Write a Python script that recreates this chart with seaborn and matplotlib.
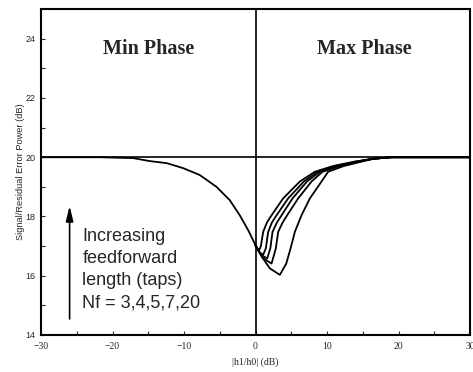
import numpy as np
import pandas as pd
import seaborn as sns
import matplotlib.pyplot as plt

# min phase branch (x < 0)
min_x = [-30, -25, -21.8, -17.1, -14.8, -12.4, -10.1, -7.8, -5.45, -3.6, -2.2, -1.03, 0]
min_y = [20.0, 20.0, 20.0, 19.97, 19.87, 19.8, 19.63, 19.4, 19.0, 18.55, 18.04, 17.54, 17.03]

# max phase branch, one curve per feedforward length (Nf = 20, 7, 5, 4, 3)
nf_labels = ['20', '7', '5', '4', '3']
max_x = [
    [0, 0.25, 0.5, 0.75, 1.07, 1.6, 2.24, 3.86, 6.2, 8.3, 10.8, 13.8, 16.5, 19, 30],
    [0, 0.5, 1.07, 1.44, 1.77, 2.3, 2.94, 4.56, 6.76, 8.67, 11.1, 14.0, 16.5, 19, 30],
    [0, 0.7, 1.63, 2.07, 2.38, 3.0, 3.64, 5.17, 7.2, 9.0, 11.4, 14.2, 16.5, 19, 30],
    [0, 1.0, 2.24, 2.84, 3.17, 3.8, 4.42, 5.96, 7.83, 9.37, 11.7, 14.4, 16.5, 19, 30],
    [0, 1.0, 2.0, 3.4, 4.3, 4.9, 5.5, 6.43, 7.6, 9.23, 10.15, 12.3, 14.8, 16.5, 19, 30],
]
max_y = [
    [17.03, 16.9, 16.86, 17.0, 17.48, 17.8, 18.04, 18.61, 19.18, 19.51, 19.7, 19.85, 19.95, 20, 20],
    [17.03, 16.8, 16.71, 16.92, 17.48, 17.8, 18.04, 18.61, 19.18, 19.51, 19.7, 19.85, 19.95, 20, 20],
    [17.03, 16.72, 16.58, 16.92, 17.48, 17.8, 18.04, 18.61, 19.18, 19.51, 19.7, 19.85, 19.95, 20, 20],
    [17.03, 16.6, 16.41, 16.92, 17.48, 17.8, 18.04, 18.61, 19.18, 19.51, 19.7, 19.85, 19.95, 20, 20],
    [17.03, 16.6, 16.25, 16.03, 16.41, 16.92, 17.48, 18.04, 18.61, 19.18, 19.51, 19.7, 19.85, 19.95, 20, 20],
]

sns.set_style("ticks")

fig = plt.figure(figsize=(4.73, 3.72), dpi=100)
ax = fig.add_axes([0.0867, 0.0995, 0.907, 0.876])

sns.lineplot(x=min_x, y=min_y, ax=ax, color='k', linewidth=1.3,
             estimator=None, sort=False)
for xs, ys in zip(max_x, max_y):
    line = sns.lineplot(x=xs, y=ys, ax=ax, color='k', linewidth=1.3,
                        estimator=None, sort=False)
for l in ax.lines:
    l.set_solid_joinstyle('round')

ax.axhline(20, color='k', linewidth=1.2)
ax.axvline(0, color='k', linewidth=1.2)

ax.set_xlim(-30, 30)
ax.set_ylim(14, 25)
ax.set_xticks([-30, -20, -10, 0, 10, 20, 30])
ax.set_xticks(np.arange(-25, 30, 10), minor=True)
ax.set_yticks([14, 16, 18, 20, 22, 24])
ax.set_yticks([15, 17, 19, 21, 23], minor=True)
ax.tick_params(which='both', direction='in', length=3, width=0.8)
ax.tick_params(axis='y', labelsize=6.5, pad=4)
ax.tick_params(axis='x', labelsize=7, pad=5)
for lab in ax.get_xticklabels():
    lab.set_family('Liberation Serif')
for lab in ax.get_yticklabels():
    lab.set_family('Liberation Sans')
for s in ax.spines.values():
    s.set_linewidth(1.5)
    s.set_color('k')

ax.set_xlabel('|h1/h0| (dB)', fontsize=7, family='Liberation Serif', labelpad=5)
ax.set_ylabel('Signal/Residual Error Power (dB)', fontsize=6.7,
              family='Liberation Sans', labelpad=0)

ax.text(-15.0, 23.66, 'Min Phase', fontsize=14.5, fontweight='bold',
        family='Liberation Serif', ha='center', va='center')
ax.text(15.15, 23.66, 'Max Phase', fontsize=14.5, fontweight='bold',
        family='Liberation Serif', ha='center', va='center')

ax.annotate('', xy=(-26, 18.45), xytext=(-26, 14.45),
            arrowprops=dict(arrowstyle='-|>,head_length=0.9,head_width=0.22',
                            color='k', lw=1.2, mutation_scale=10))
ax.text(-24.2, 16.2, 'Increasing\nfeedforward\nlength (taps)\nNf = 3,4,5,7,20',
        fontsize=13, family='Liberation Sans', ha='left', va='center',
        linespacing=1.4)

fig.savefig('out.png', dpi=100)
